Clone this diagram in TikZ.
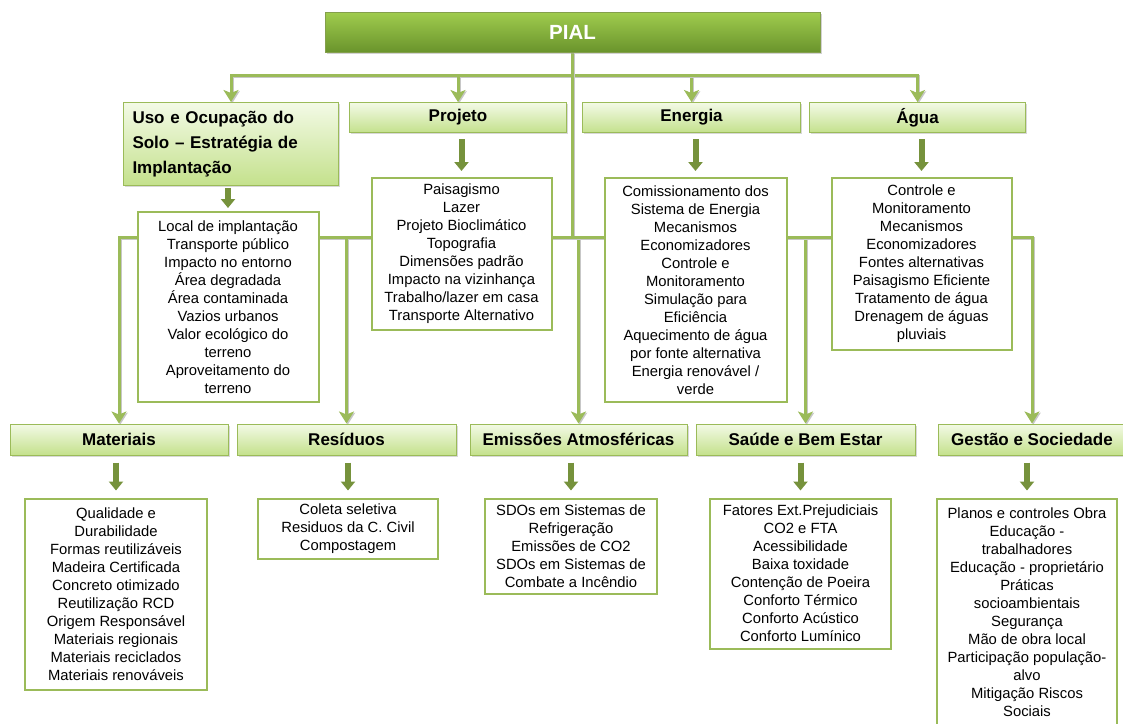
\documentclass[tikz,border=0pt]{standalone}
\usepackage{fontspec}
\setmainfont{Liberation Sans}
\usetikzlibrary{arrows.meta, positioning, shadows, backgrounds, calc}

\definecolor{pialtop}{RGB}{160,204,78}
\definecolor{pialbot}{RGB}{106,148,44}
\definecolor{hdrtop}{RGB}{243,250,230}
\definecolor{hdrbot}{RGB}{196,225,140}
\definecolor{boxline}{RGB}{155,187,89}
\definecolor{arrdark}{RGB}{118,146,60}

\begin{document}
\begin{tikzpicture}[
    x=1pt, y=-1pt,
    pialbox/.style={rectangle, draw=boxline!85!black, line width=0.8pt, top color=pialtop, bottom color=pialbot, minimum width=495pt, minimum height=40pt, text=white, font=\fontsize{20.5}{24}\selectfont\bfseries, drop shadow={shadow xshift=1.5pt, shadow yshift=-1.5pt, fill=black!35}},
    hdr/.style={rectangle, draw=boxline, line width=1pt, top color=hdrtop, bottom color=hdrbot, minimum height=31pt, inner sep=2pt, font=\fontsize{17}{20}\selectfont\bfseries, drop shadow={shadow xshift=1.5pt, shadow yshift=-1.5pt, fill=black!30}},
    lst/.style={rectangle, draw=boxline, line width=2pt, fill=white, align=center, inner sep=0pt, font=\fontsize{14.8}{18}\selectfont},
    conn/.style={draw=boxline, line width=3pt, -{Stealth[width=15pt, length=12pt, inset=3pt]}, preaction={draw=black!22, line width=3pt, transform canvas={shift={(1.2pt,-1.2pt)}}}},
    blk/.style={draw=arrdark, line width=6pt, -{Triangle[width=14pt, length=9pt]}}
]
\useasboundingbox (0,0) rectangle (1123,723);

% Root
\node[pialbox] (pial) at (572.5,32) {PIAL};

% Row 1: headers
\node[hdr, minimum width=215pt, minimum height=83pt, anchor=north west, inner xsep=9pt, text width=197pt, align=left, font=\fontsize{17}{25}\selectfont\bfseries] (uso) at (123,102) {Uso e Ocupação do\\Solo – Estratégia de\\Implantação};
\node[hdr, minimum width=217pt, minimum height=30pt, right=10pt of uso.north east, anchor=north west] (proj) {Projeto};
\node[hdr, minimum width=218pt, minimum height=30pt, right=15pt of proj] (ener) {Energia};
\node[hdr, minimum width=216pt, minimum height=30pt, right=8pt of ener] (agua) {Água};

% Row 1: lists
\node[lst, minimum width=181pt, minimum height=190pt, below=25pt of uso.south, xshift=-3pt] (usolist) {Local de implantação\\Transporte público\\Impacto no entorno\\Área degradada\\Área contaminada\\Vazios urbanos\\Valor ecológico do\\terreno\\Aproveitamento do\\terreno};
\node[lst, minimum width=180pt, minimum height=152pt, below=44pt of proj, xshift=3.5pt] (projlist) {Paisagismo\\Lazer\\Projeto Bioclimático\\Topografia\\Dimensões padrão\\Impacto na vizinhança\\Trabalho/lazer em casa\\Transporte Alternativo};
\node[lst, minimum width=182pt, minimum height=224pt, below=44pt of ener, xshift=4pt] (enerlist) {Comissionamento dos\\Sistema de Energia\\Mecanismos\\Economizadores\\Controle e\\Monitoramento\\Simulação para\\Eficiência\\Aquecimento de água\\por fonte alternativa\\Energia renovável /\\verde};
\node[lst, minimum width=180pt, minimum height=172pt, below=44pt of agua, xshift=4pt] (agualist) {Controle e\\Monitoramento\\Mecanismos\\Economizadores\\Fontes alternativas\\Paisagismo Eficiente\\Tratamento de água\\Drenagem de águas\\pluviais};

% Row 2: headers
\node[hdr, minimum width=218pt] (mat) at (119,439.5) {Materiais};
\node[hdr, minimum width=219pt, right=8pt of mat] (res) {Resíduos};
\node[hdr, minimum width=217pt, right=13pt of res] (emis) {Emissões Atmosféricas};
\node[hdr, minimum width=219pt, right=8pt of emis] (saude) {Saúde e Bem Estar};
\node[hdr, minimum width=188pt, right=22pt of saude] (gest) {Gestão e Sociedade};

% Row 2: lists
\node[lst, minimum width=182pt, minimum height=191pt, below=42pt of mat, xshift=-3pt] (matlist) {Qualidade e\\Durabilidade\\Formas reutilizáveis\\Madeira Certificada\\Concreto otimizado\\Reutilização RCD\\Origem Responsável\\Materiais regionais\\Materiais reciclados\\Materiais renováveis};
\node[lst, minimum width=180pt, minimum height=60pt, below=42pt of res, xshift=1.5pt] (reslist) {Coleta seletiva\\Residuos da C. Civil\\Compostagem};
\node[lst, minimum width=172pt, minimum height=95pt, below=42pt of emis, xshift=-7.5pt] (emislist) {SDOs em Sistemas de\\Refrigeração\\Emissões de CO2\\SDOs em Sistemas de\\Combate a Incêndio};
\node[lst, minimum width=181pt, minimum height=150pt, below=42pt of saude, xshift=-5pt] (saudelist) {Fatores Ext.Prejudiciais\\CO2 e FTA\\Acessibilidade\\Baixa toxidade\\Contenção de Poeira\\Conforto Térmico\\Conforto Acústico\\Conforto Lumínico};
\node[lst, minimum width=180pt, minimum height=228pt, below=42pt of gest, xshift=-5pt] (gestlist) {Planos e controles Obra\\Educação -\\trabalhadores\\Educação - proprietário\\Práticas\\socioambientais\\Segurança\\Mão de obra local\\Participação população-\\alvo\\Mitigação Riscos\\Sociais};

% Header -> list arrows
\draw[blk, shorten <=2pt, shorten >=3pt] (usolist.north |- uso.south) -- (usolist.north);
\foreach \h in {proj, ener, agua}
  \draw[blk, shorten <=6pt, shorten >=6pt] (\h list.north |- \h.south) -- (\h list.north);
\foreach \h in {mat, res, emis, saude, gest}
  \draw[blk, shorten <=7pt, shorten >=7pt] (\h list.north |- \h.south) -- (\h list.north);

% Tree connectors (behind the boxes)
\coordinate (topbus) at (0,75);
\coordinate (midbus) at (0,237);
\begin{scope}[on background layer]
  \foreach \h in {uso, proj, ener, agua}
    \draw[conn] (pial.south) -- (pial.south |- topbus) -| (\h.north);
  \foreach \h in {mat, res, emis, saude, gest}
    \draw[conn] (pial.south) -- (pial.south |- midbus) -| (\h.north);
\end{scope}

\end{tikzpicture}
\end{document}
